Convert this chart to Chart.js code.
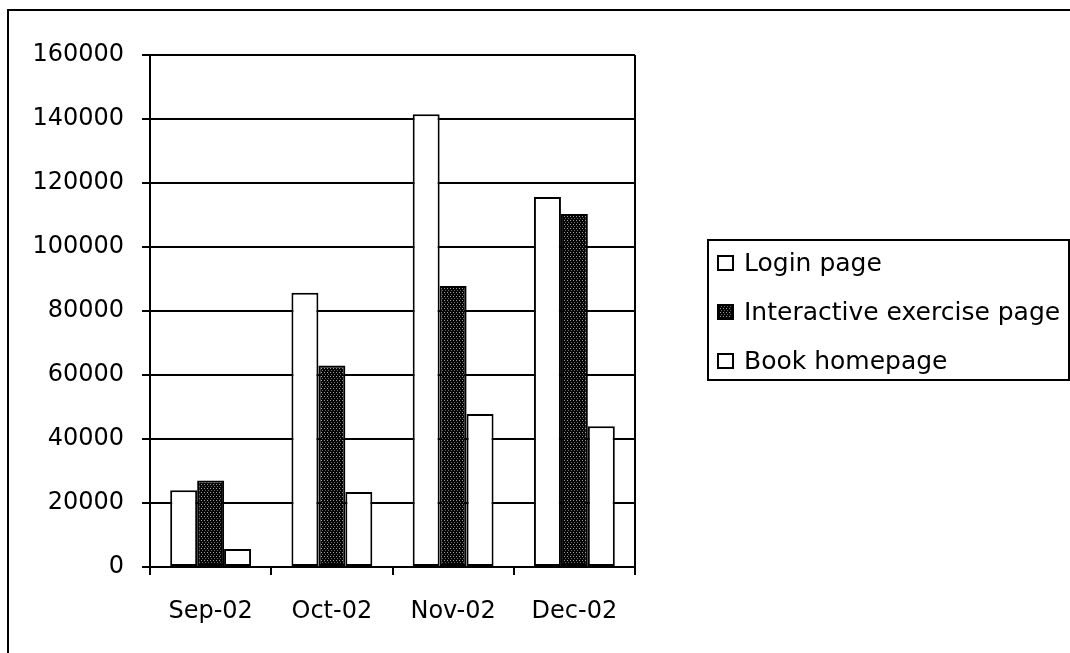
<!DOCTYPE html>
<html>
<head>
<meta charset="utf-8">
<script src="https://cdn.jsdelivr.net/npm/chart.js@4.4.1/dist/chart.umd.min.js"></script>
<style>
  html, body { margin: 0; padding: 0; background: #fff; }
  #wrap { width: 1070px; height: 653px; }
</style>
</head>
<body>
<div id="wrap"><canvas id="hitsChart" width="1070" height="653"></canvas></div>
<script>
// Monthly page hits
const months = ["Sep-02", "Oct-02", "Nov-02", "Dec-02"];
const loginPage = [24000, 85700, 141500, 115600];
const exercisePage = [27000, 63000, 87800, 110300];
const bookHomepage = [5600, 23400, 47800, 44000];
const yTicks = [0, 20000, 40000, 60000, 80000, 100000, 120000, 140000, 160000];

const FONT = "'DejaVu Sans', sans-serif";

// dark speckled fill like the old excel pattern
function makePattern() {
  const c = document.createElement("canvas");
  c.width = 6;
  c.height = 4;
  const g = c.getContext("2d");
  g.fillStyle = "#050505";
  g.fillRect(0, 0, 6, 4);
  g.fillStyle = "#9a9a9a";
  g.fillRect(0, 0, 1, 1);
  g.fillRect(3, 0, 1, 1);
  g.fillStyle = "#6a6a6a";
  g.fillRect(1, 2, 1, 1);
  g.fillRect(4, 2, 1, 1);
  return document.getElementById("hitsChart").getContext("2d").createPattern(c, "repeat");
}
const speckle = makePattern();

// outer frame + right edge of plot area
const framePlugin = {
  id: "frame",
  afterDraw(chart) {
    const ctx = chart.ctx;
    const a = chart.chartArea;
    ctx.save();
    ctx.strokeStyle = "#000";
    ctx.lineWidth = 2;
    ctx.beginPath();
    ctx.moveTo(8, 653);
    ctx.lineTo(8, 10);
    ctx.lineTo(1070, 10);
    ctx.stroke();
    ctx.beginPath();
    ctx.moveTo(a.right, a.top);
    ctx.lineTo(a.right, a.bottom);
    ctx.stroke();
    ctx.restore();
  },
};

// boxed legend on the right, like excel
const boxLegend = {
  id: "boxLegend",
  afterDraw(chart) {
    const ctx = chart.ctx;
    const left = 708, top = 240, right = 1069, bottom = 380;
    ctx.save();
    ctx.strokeStyle = "#000";
    ctx.lineWidth = 2;
    ctx.strokeRect(left, top, right - left, bottom - top);
    ctx.font = "25px " + FONT;
    ctx.textBaseline = "middle";
    ctx.fillStyle = "#000";
    const rows = [263, 312, 361];
    chart.data.datasets.forEach((ds, i) => {
      const y = rows[i];
      ctx.fillStyle = ds.backgroundColor;
      ctx.fillRect(718, y - 7, 15, 14);
      ctx.lineWidth = 2;
      ctx.strokeRect(718, y - 7, 15, 14);
      ctx.fillStyle = "#000";
      ctx.fillText(ds.label, 744, y + 1);
    });
    ctx.restore();
  },
};

const ctx = document.getElementById("hitsChart").getContext("2d");
new Chart(ctx, {
  type: "bar",
  data: {
    labels: months,
    datasets: [
      { label: "Login page", data: loginPage, backgroundColor: "#fff" },
      { label: "Interactive exercise page", data: exercisePage, backgroundColor: speckle },
      { label: "Book homepage", data: bookHomepage, backgroundColor: "#fff" },
    ],
  },
  options: {
    responsive: false,
    animation: false,
    events: [],
    layout: { padding: { left: 0, top: 55, right: 435, bottom: 0 } },
    datasets: {
      bar: {
        borderColor: "#000",
        borderWidth: 2,
        borderSkipped: false,
        barPercentage: 1,
        categoryPercentage: 0.667,
      },
    },
    scales: {
      x: {
        offset: true,
        grid: { drawOnChartArea: false, offset: true, color: "#000", lineWidth: 2, tickLength: 8 },
        border: { color: "#000", width: 2 },
        ticks: { color: "#000", font: { family: FONT, size: 24 }, padding: 22, maxRotation: 0 },
        afterFit(scale) { scale.height = 86; },
      },
      y: {
        min: 0,
        max: 160000,
        afterBuildTicks(scale) { scale.ticks = yTicks.map((v) => ({ value: v })); },
        grid: { color: "#000", lineWidth: 2, tickLength: 8 },
        border: { color: "#000", width: 2 },
        ticks: {
          color: "#000",
          font: { family: FONT, size: 24 },
          padding: 18,
          callback: (v) => String(v),
        },
        afterFit(scale) { scale.width = 150; },
      },
    },
    plugins: {
      legend: { display: false },
      tooltip: { enabled: false },
    },
  },
  plugins: [framePlugin, boxLegend],
});
</script>
</body>
</html>
